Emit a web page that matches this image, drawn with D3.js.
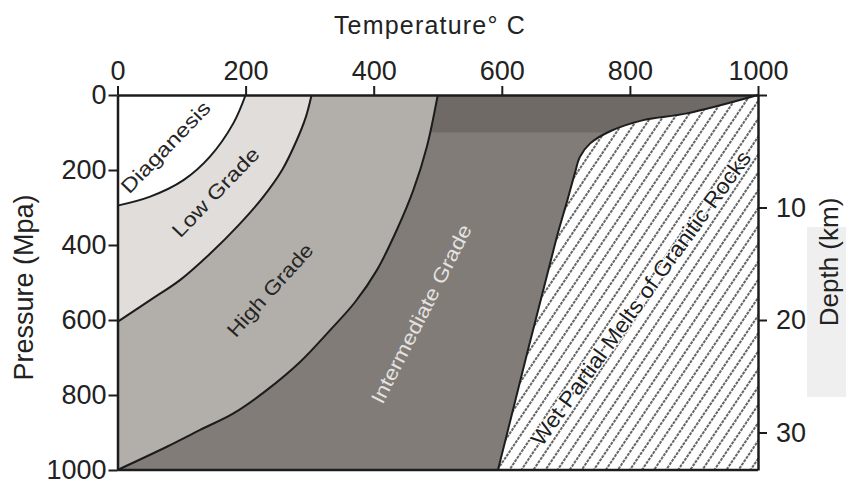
<!DOCTYPE html>
<html>
<head>
<meta charset="utf-8">
<script src="https://cdn.jsdelivr.net/npm/d3@7"></script>
<style>
  body { margin: 0; background: #fff; }
  text { font-family: "Liberation Sans", Arial, sans-serif; }
</style>
</head>
<body>
<svg id="chart" width="846" height="482"></svg>
<script>
// Axis ticks
const temperatureTicks = [0, 200, 400, 600, 800, 1000];
const pressureTicks = [0, 200, 400, 600, 800, 1000];
const depthTicks = [0, 10, 20, 30];

// Zone boundaries as [temperature °C, pressure MPa], listed from the top edge downwards
const diagenesisLimit = [[200, 0], [181, 75], [144, 165], [103, 227], [51, 271], [0, 295]];
const lowGradeLimit = [[303, 0], [294, 59], [280, 120], [257, 200], [226, 275], [188, 349],
                       [144, 424], [98, 493], [51, 547], [0, 605]];
const highGradeLimit = [[500, 0], [483, 138], [462, 253], [436, 360], [405, 467], [371, 552], [332, 627],
                        [285, 712], [233, 787], [181, 849], [129, 893], [77, 938], [0, 1000]];
const meltSolidus = [[1000, 0], [889, 49], [821, 67], [770, 96], [738, 129], [722, 165], [714, 209],
                     [701, 289], [686, 378], [594, 1000]];

// Zone names with label anchor [temperature, pressure] and text angle
const zoneNames = ["Diaganesis", "Low Grade", "High Grade", "Intermediate Grade", "Wet Partial Melts of Granitic Rocks"];
const zoneLabelAt = [[75, 139], [153, 259], [238, 520], [474, 584], [817, 542]];
const zoneLabelAngle = [-46, -46, -48, -63, -54];
const zoneLabelLength = [119, 116, 118, 198, 358];
const zoneLabelSize = [20, 20, 20, 20, 22];
const zoneLabelColor = ["#262626", "#262626", "#262626", "#e4e2e0", "#1e1e1e"];

const svg = d3.select("#chart");
const x = d3.scaleLinear().domain([0, 1000]).range([117.5, 758]);
const y = d3.scaleLinear().domain([0, 1000]).range([95, 470]);
// roughly 30 MPa of lithostatic pressure per km of depth
const depth = d3.scaleLinear().domain([0, 1000 / 30]).range([95, 470]);

const defs = svg.append("defs");
const hatch = defs.append("pattern")
  .attr("id", "meltHatch")
  .attr("patternUnits", "userSpaceOnUse")
  .attr("width", 10).attr("height", 8)
  .attr("patternTransform", "rotate(34)");
hatch.append("rect").attr("width", 10).attr("height", 8).attr("fill", "#fff");
hatch.append("line")
  .attr("x1", 5).attr("x2", 5).attr("y1", 0).attr("y2", 8)
  .attr("stroke", "#000").attr("stroke-width", 1.2)
  .attr("stroke-dasharray", "3,1");

const curve = d3.line().x(d => x(d[0])).y(d => y(d[1])).curve(d3.curveCatmullRom.alpha(0.5));

// faint grey block in the right margin, behind the depth title
svg.append("rect").attr("x", 807).attr("y", 227).attr("width", 39).attr("height", 170)
  .attr("fill", "#efefef");

const fills = svg.append("g");
const lines = svg.append("g");
const labels = svg.append("g");

// Intermediate grade fills the whole field, the other zones are painted over it
fills.append("rect")
  .attr("x", x(0)).attr("y", y(0))
  .attr("width", x(1000) - x(0)).attr("height", y(1000) - y(0))
  .attr("fill", "#817c78");
// darker strip along the top edge of the field
fills.append("rect")
  .attr("x", x(230)).attr("y", y(0))
  .attr("width", x(1000) - x(230)).attr("height", y(100) - y(0))
  .attr("fill", "#6f6a66");

function zone(points, corner, fill) {
  fills.append("path")
    .attr("d", curve(points) + `L${x(corner[0])},${y(corner[1])}Z`)
    .attr("fill", fill);
}
zone(highGradeLimit, [0, 0], "#b2aeaa");
zone(lowGradeLimit, [0, 0], "#e0ddda");
zone(diagenesisLimit, [0, 0], "#ffffff");
zone(meltSolidus, [1000, 1000], "url(#meltHatch)");

[diagenesisLimit, lowGradeLimit, highGradeLimit, meltSolidus].forEach(pts => {
  lines.append("path")
    .attr("d", curve(pts))
    .attr("fill", "none")
    .attr("stroke", "#1c1c1c")
    .attr("stroke-width", 2);
});

// Zone labels
zoneNames.forEach((name, i) => {
  const [t, p] = zoneLabelAt[i];
  labels.append("text")
    .attr("transform", `translate(${x(t)},${y(p)}) rotate(${zoneLabelAngle[i]})`)
    .attr("text-anchor", "middle")
    .attr("dominant-baseline", "central")
    .attr("font-size", zoneLabelSize[i])
    .attr("textLength", zoneLabelLength[i])
    .attr("lengthAdjust", "spacingAndGlyphs")
    .attr("fill", zoneLabelColor[i])
    .attr("stroke", i === 4 ? "#fff" : "none")
    .attr("stroke-width", i === 4 ? 2.5 : 0)
    .attr("paint-order", "stroke")
    .text(name);
});

// Axes
function styleAxis(g) {
  g.select(".domain").attr("stroke", "#1c1c1c").attr("stroke-width", 2.5);
  g.selectAll(".tick line").attr("stroke", "#1c1c1c").attr("stroke-width", 2);
  g.selectAll(".tick text").attr("fill", "#222").attr("font-size", 27)
    .attr("font-family", "'Liberation Sans', Arial, sans-serif");
}
const fmt = d3.format("d");

svg.append("g")
  .attr("transform", `translate(0,${y(0)})`)
  .call(d3.axisTop(x).tickValues(temperatureTicks).tickFormat(fmt)
        .tickSize(9).tickSizeOuter(0).tickPadding(6))
  .call(styleAxis);

svg.append("g")
  .attr("transform", `translate(${x(0)},0)`)
  .call(d3.axisLeft(y).tickValues(pressureTicks).tickFormat(fmt)
        .tickSize(9).tickSizeOuter(0).tickPadding(2))
  .call(styleAxis);

svg.append("g")
  .attr("transform", `translate(${x(1000)},0)`)
  .call(d3.axisRight(depth).tickValues(depthTicks).tickSize(9).tickSizeOuter(0).tickPadding(9)
        .tickFormat(d => d === 0 ? "" : fmt(d)))
  .call(styleAxis);

svg.append("line")
  .attr("x1", x(0)).attr("x2", x(1000))
  .attr("y1", y(1000)).attr("y2", y(1000))
  .attr("stroke", "#1c1c1c").attr("stroke-width", 2.5);

// Axis titles
svg.append("text")
  .attr("x", 430).attr("y", 34)
  .attr("text-anchor", "middle")
  .attr("font-size", 25).attr("letter-spacing", 1.2)
  .attr("fill", "#222")
  .text("Temperature° C");

svg.append("text")
  .attr("transform", `translate(33,${(y(0) + y(1000)) / 2 + 5}) rotate(-90)`)
  .attr("text-anchor", "middle")
  .attr("font-size", 27)
  .attr("fill", "#222")
  .text("Pressure (Mpa)");

svg.append("text")
  .attr("transform", `translate(838,262) rotate(-90)`)
  .attr("text-anchor", "middle")
  .attr("font-size", 26)
  .attr("fill", "#222")
  .text("Depth (km)");
</script>
</body>
</html>
